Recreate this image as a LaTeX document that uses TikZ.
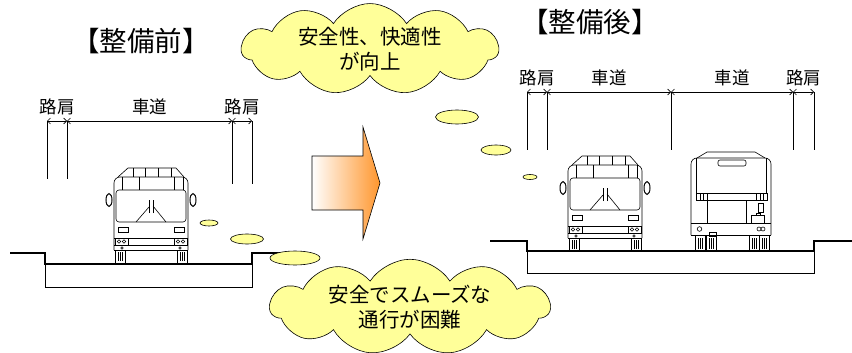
\documentclass[tikz,border=0pt]{standalone}
\usepackage{fontspec}
\setmainfont{Noto Sans CJK JP}
\usepackage{tikz}
\usetikzlibrary{positioning}
\usetikzlibrary{arrows.meta}
\usetikzlibrary{shapes.symbols}
\definecolor{cloudfill}{RGB}{255,255,153}
\definecolor{arroworange}{RGB}{255,150,45}

\tikzset{
    % bus seen from the front
    frontbus/.pic={
        \foreach \s in {-1,1} {
            \draw (\s*26,0) rectangle (\s*36,-13);
            \foreach \t in {29,31,33}
                \draw (\s*\t,-2) -- (\s*\t,-11);
            \draw[line width=1pt] (\s*42,-63) ellipse [x radius=3, y radius=6.5];
        }
        \draw[rounded corners=6pt] (-37,-13) -- (-37,-86) -- (37,-86) -- (37,-13);
        \draw (-37,-13) -- (37,-13);
        % roof
        \draw (-33,-86) -- (-23,-95) -- (25,-95) -- (33,-86);
        \foreach \t in {-18,-6,7,20}
            \draw (\t,-95) -- (\t,-86);
        \foreach \t in {-29,-12,23,32}
            \draw (\t,-86) -- (\t,-73);
        % windscreen and wipers
        \draw[rounded corners=3pt] (-35,-41) rectangle (35,-73);
        \draw (-15,-41) -- (-2,-56);
        \draw (15,-41) -- (2,-57);
        \draw (-2,-50) -- (-2,-63);
        \draw (2,-50) -- (2,-63);
        % lights and bumper
        \draw (-33,-31) rectangle (-23,-36);
        \draw (23,-31) rectangle (33,-36);
        \draw (-37,-25) -- (37,-25);
        \draw (-37,-18) -- (37,-18);
        \draw (-36,-25) rectangle (-23,-18);
        \draw (23,-25) rectangle (36,-18);
        \foreach \t in {-32,-27,27,32}
            \draw (\t,-21.5) circle (1.7);
        \draw (-29,-15) circle (1.3);
        \draw (29,-15) circle (1.3);
    },
    % bus seen from behind
    rearbus/.pic={
        \foreach \a in {-36,-25,18,28} {
            \draw (\a,0) rectangle (\a+10,-16);
            \foreach \t in {3,5,7}
                \draw (\a+\t,-2) -- (\a+\t,-13);
        }
        \draw[rounded corners=6pt] (-40,-16) -- (-40,-93) -- (40,-93) -- (40,-16);
        \draw (-40,-16) -- (40,-16);
        % roof and rear window
        \draw (-34,-93) -- (-24,-99) -- (24,-99) -- (34,-93);
        \draw (-35,-93) -- (-35,-58) -- (35,-58) -- (35,-93);
        \draw[rounded corners=2pt] (-13,-85) rectangle (15,-91);
        % tail lamps
        \draw (-35,-58) rectangle (-24,-51);
        \draw (25,-58) rectangle (36,-51);
        \foreach \t in {-31,-28,29,32}
            \draw (\t,-58) -- (\t,-51);
        \draw (-35,-51) -- (35,-51);
        % engine door
        \draw (-24,-51) -- (-24,-28);
        \draw (15,-51) -- (15,-28);
        \draw (-40,-28) -- (40,-28);
        \draw (27.5,-48) rectangle (32.5,-39);
        \draw (20.5,-36) rectangle (33.5,-28);
        \draw (25,-36) -- (25,-38) -- (29,-38) -- (29,-36);
        \draw (-31.5,-22) circle (2.3);
        \draw (28,-22) circle (2);
        \draw (32,-22) circle (2);
        \draw (-21.5,-19) rectangle (-14.5,-15);
    }
}

\begin{document}
\begin{tikzpicture}[
            x = 1pt, y = -1pt, % picture units, y grows downwards
            > = {Straight Barb[length=3pt,width=6pt]}, % arrow head style
            semithick % line style
        ]

        \tikzstyle{road}=[line width=2pt]
        \tikzstyle{base}=[line width=1pt]
        \tikzstyle{dim}=[semithick, <->]
        \tikzstyle{lbl}=[font=\fontsize{17.5}{17.5}\selectfont, inner sep=0pt, above=6pt]
        \tikzstyle{title}=[font=\fontsize{27.5}{27.5}\selectfont, inner sep=0pt]
        \tikzstyle{puff}=[draw, fill=cloudfill, semithick]
        \tikzstyle{thought}=[
            cloud, cloud puffs=11, cloud puff arc=115, cloud ignores aspect,
            draw, fill=cloudfill, semithick, inner sep=0pt,
            align=center, font=\fontsize{20.5}{25}\selectfont
        ]

        \useasboundingbox (0,0) rectangle (852,353);

	% before
        \node[title] (before) at (141,41) {【整備前】};

        \draw[road] (10,253) -- (45,253) -- (45,264) -- (252,264) -- (252,253) -- (288,253);
        \draw[base] (45,264) -- (45,287) -- (252,287) -- (252,264);

        \coordinate (la) at (47,121);
        \coordinate (lb) at (67,121);
        \coordinate (lc) at (232,121);
        \coordinate (ld) at (252,121);
        \draw (la) -- +(0,58);
        \draw (lb) -- +(0,58);
        \draw (lc) -- +(0,63);
        \draw (ld) -- +(0,63);
        \draw[dim] (la) -- node[lbl] {路肩} (lb);
        \draw[dim] (lb) -- node[lbl] {車道} (lc);
        \draw[dim] (lc) -- node[lbl] {路肩} (ld);

        \pic at (151,263) {frontbus};

        % after
        \node[title] (after) at (590,22) {【整備後】};

        \draw[road] (490,241) -- (527,241) -- (527,251) -- (814,251) -- (814,241) -- (852,241);
        \draw[base] (527,251) -- (527,273) -- (814,273) -- (814,251);

        \coordinate (ra) at (527,92);
        \coordinate (rb) at (547,92);
        \coordinate (rc) at (671,92);
        \coordinate (rd) at (793,92);
        \coordinate (re) at (814,92);
        \foreach \p in {ra,rb,rc,rd,re}
            \draw (\p) -- +(0,58);
        \draw[dim] (ra) -- node[lbl] {路肩} (rb);
        \draw[dim] (rb) -- node[lbl] {車道} (rc);
        \draw[dim] (rc) -- node[lbl] {車道} (rd);
        \draw[dim] (rd) -- node[lbl] {路肩} (re);

        \pic at (605,251) {frontbus};
        \pic at (731,251) {rearbus};

        % arrow between the two
        \shade[draw, left color=white, right color=arroworange]
            (312,156) -- (363,156) -- (363,127) -- (380,183)
            -- (363,239) -- (363,210) -- (312,210) -- cycle;

        % thought bubbles
        \draw[puff] (209,223) ellipse [x radius=9, y radius=3];
        \draw[puff] (247,239) ellipse [x radius=16.5, y radius=5];
        \draw[puff] (295,258) ellipse [x radius=25, y radius=7];
        \node[thought, minimum width=280pt, minimum height=86pt] (hard) at (410,307)
            {安全でスムーズな\\通行が困難};

        \draw[puff] (530,177) ellipse [x radius=7, y radius=2.5];
        \draw[puff] (496,150) ellipse [x radius=15, y radius=5];
        \draw[puff] (457,117) ellipse [x radius=21.5, y radius=7];
        \node[thought, minimum width=257pt, minimum height=84pt] (better) at (370,49)
            {安全性、快適性\\が向上};

  \end{tikzpicture}
\end{document}
